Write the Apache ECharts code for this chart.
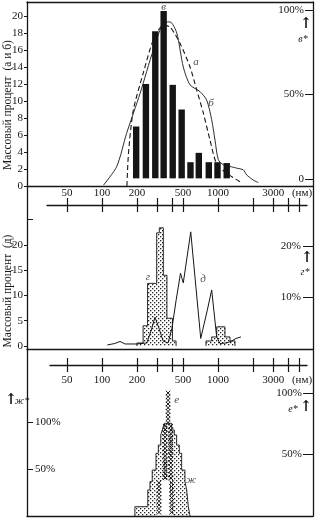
<!DOCTYPE html>
<html>
<head>
<meta charset="utf-8">
<script src="https://cdn.jsdelivr.net/npm/echarts@6/dist/echarts.min.js"></script>
<style>
  html, body { margin: 0; padding: 0; background: #fff; }
  #chart { width: 317px; height: 518px; }
</style>
</head>
<body>
<div id="chart"></div>
<script>
// ---- panel 1: histogram в and curves а (dashed), б (solid), mass %
const barSizes = [197, 239, 288, 340, 407, 486, 579, 683, 833, 990, 1189];
const barValues = [7, 12, 18.2, 20.6, 11.9, 9, 2.8, 3.9, 2.8, 2.8, 2.7];
const barBase = 0.9;
const curveASizes = [164, 169, 186, 227, 277, 338, 386, 470, 574, 655, 747, 853, 975, 1189, 1548];
const curveAValues = [0, 3.8, 8.9, 13.3, 17.2, 18.9, 18.7, 16.8, 14.0, 11.3, 8.6, 5.4, 2.6, 1.5, 0.5];
const curveBSizes = [103, 134, 163, 213, 277, 349, 386, 441, 502, 574, 700, 799, 882, 942, 1006, 1111, 1269, 1449, 1652, 1768, 2016, 2226];
const curveBValues = [0.1, 2.3, 6.2, 10.9, 16, 19.3, 19.3, 18, 14, 11.9, 11.1, 10.1, 7.8, 5.4, 3.1, 2.5, 2.3, 2.1, 1.9, 1.3, 0.7, 0.4];

// ---- panel 2: histogram г (two groups) and curve д
const histGEdges = [200, 226, 247, 296, 312, 338, 363, 405, 435];
const histGValues = [0.6, 4, 12.4, 22.4, 23.4, 14, 5.5, 1];
const histG2Edges = [788, 882, 974, 1149, 1269, 1402];
const histG2Values = [1, 1.8, 3.8, 1.8, 1];
const curveDSizes = [111, 129, 143, 158, 200, 243, 265, 286, 310, 336, 371, 401, 435, 475, 502, 582, 710, 809, 882, 974, 1040, 1172, 1294, 1430, 1579];
const curveDValues = [0.2, 0.5, 0.9, 0.4, 0.4, 0.6, 3, 5.7, 3.5, 1.0, 0.6, 3.5, 9, 14.4, 12.5, 22.6, 1.5, 7.1, 11.1, 1.8, 0.5, 0.6, 0.9, 1.5, 1.8];

// ---- panel 3: cumulative ж (stippled steps) and е (crosses)
const zhLeft = [192, 248, 259, 271, 292, 306, 321, 331, 344];
const zhRight = [574, 555, 537, 519, 486, 464, 440, 420, 399];
const zhTop = [9.9, 27.7, 36.5, 48.9, 66.7, 75.5, 86.2, 91.5, 98.6];
const gapLeft = [296, 323];
const gapRight = [399, 385];
const gapTop = [27.7, 38];
const eTopSizes = [371];
const eTopLevels = [100, 97, 94, 91, 88, 85, 82, 79, 76];
const eMidSizes = [350, 392];
const eMidLevels = [73, 70, 67, 64, 61, 58, 55, 52, 49, 46, 43, 40, 37, 34, 31];
const eLowSizes = [310, 398];
const eLowLevels = [27, 24, 21, 18, 15, 12, 9, 6, 3];

// axis ticks / labels (nm)
const sizeLabels = [50, 100, 200, 500, 1000, 3000, 5300];
const sizeTicks = [50, 100, 200, 300, 400, 500, 1000, 2000, 3000, 4000, 5000];

// curve letters
const lettersTop = [{ value: [340, 21.1], name: 'в' }, { value: [646, 14.6], name: 'а' }, { value: [871, 9.8], name: 'б' }];
const lettersMid = [{ value: [249, 13.7], name: 'г' }, { value: [743, 13.3], name: 'д' }];
const lettersBot = [{ value: [441, 94.3], name: 'е' }, { value: [585, 38.3], name: 'ж' }];

const ink = '#151515';
const serif = 'Liberation Serif';
const txt = { color: ink, fontFamily: serif, fontSize: 11 };

function dotPattern() {
  const c = document.createElement('canvas');
  c.width = 4; c.height = 4;
  const g = c.getContext('2d');
  g.fillStyle = '#fff'; g.fillRect(0, 0, 4, 4);
  g.fillStyle = '#222';
  g.fillRect(0, 0, 1.3, 1.3); g.fillRect(2, 2, 1.3, 1.3);
  return c;
}
const dots = { image: dotPattern(), repeat: 'repeat' };

function stepOutline(edges, vals) {
  const pts = [[edges[0], 0]];
  vals.forEach((v, i) => { pts.push([edges[i], v], [edges[i + 1], v]); });
  pts.push([edges[edges.length - 1], 0]);
  return pts;
}
function pyramidOutline(lefts, rights, tops) {
  const pts = [[lefts[0], 0]];
  let prev = 0;
  lefts.forEach((l, i) => { pts.push([l, prev], [l, tops[i]]); prev = tops[i]; });
  for (let i = rights.length - 1; i >= 0; i--) {
    pts.push([rights[i], tops[i]], [rights[i], i > 0 ? tops[i - 1] : 0]);
  }
  return pts;
}
function crosses(sizes, levels) {
  const pts = [];
  sizes.forEach(s => levels.forEach(l => pts.push([s, l])));
  return pts;
}
const pair = (xs, ys) => xs.map((x, i) => [x, ys[i]]);

function xAxis(grid, min, max, extra) {
  return Object.assign({
    type: 'log', gridIndex: grid, min: min, max: max, position: 'bottom',
    axisLine: { show: true, onZero: false, lineStyle: { color: ink, width: 1.3 } },
    axisTick: { show: false }, axisLabel: { show: false }, splitLine: { show: false }, z: 5
  }, extra);
}
function yAxis(grid, pos, min, max, extra) {
  return Object.assign({
    type: 'value', gridIndex: grid, position: pos, min: min, max: max,
    axisLine: { show: true, onZero: false, lineStyle: { color: ink, width: 1.3 } },
    axisTick: { show: false }, axisLabel: { show: false }, splitLine: { show: false }
  }, extra);
}
const pct = v => v === 0 ? '0' : v + '%';
const letterLabel = { show: true, position: 'inside', formatter: '{b}', color: ink, fontFamily: serif, fontStyle: 'italic', fontSize: 11 };
const tickStyle = { color: ink, width: 1.2 };

const chart = echarts.init(document.getElementById('chart'));
const option = {
  animation: false,
  grid: [
    { left: 27, right: 4, top: 2, height: 184 },
    { left: 27, right: 4, top: 186, height: 163 },
    { left: 27, right: 4, top: 349, height: 167 },
    { left: 47, right: 10, top: 198, height: 7 },
    { left: 50, right: 10, top: 358, height: 7 }
  ],
  xAxis: [
    xAxis(0, 22.56, 6592, {
      axisLabel: Object.assign({ show: true, customValues: sizeLabels, margin: 2,
        formatter: v => v > 5000 ? '(нм)' : String(v) }, txt)
    }),
    xAxis(0, 22.56, 6592, { position: 'top' }),
    xAxis(1, 22.56, 6592),
    xAxis(2, 22.56, 6592),
    xAxis(3, 33.57, 5851, { axisTick: { show: true, customValues: sizeTicks, length: 7, lineStyle: tickStyle } }),
    xAxis(3, 33.57, 5851, { axisLine: { show: false }, axisTick: { show: true, inside: true, customValues: sizeTicks, length: 7, lineStyle: tickStyle } }),
    xAxis(4, 35.62, 5851, {
      axisTick: { show: true, customValues: sizeTicks, length: 7, lineStyle: tickStyle },
      axisLabel: Object.assign({ show: true, customValues: sizeLabels, margin: 10,
        formatter: v => v > 5000 ? '(нм)' : String(v) }, txt)
    }),
    xAxis(4, 35.62, 5851, { axisLine: { show: false }, axisTick: { show: true, inside: true, customValues: sizeTicks, length: 7, lineStyle: tickStyle } })
  ],
  yAxis: [
    yAxis(0, 'left', 0, 21.647, {
      axisTick: { show: true, length: 3, customValues: [0, 2, 4, 6, 8, 10, 12, 14, 16, 18, 20], lineStyle: { color: ink } },
      axisLabel: Object.assign({ show: true, margin: 4, customValues: [0, 2, 4, 6, 8, 10, 12, 14, 16, 18, 20] }, txt)
    }),
    yAxis(0, 'right', -4.142, 104.734, {
      axisTick: { show: true, inside: true, length: 8, customValues: [0, 50, 100], lineStyle: { color: ink } },
      axisLabel: Object.assign({ show: true, inside: true, margin: 9, customValues: [0, 50, 100], formatter: pct }, txt)
    }),
    yAxis(1, 'left', -0.594, 31.68, {
      axisTick: { show: true, length: 3, customValues: [0, 5, 10, 15, 20], lineStyle: { color: ink } },
      axisLabel: Object.assign({ show: true, margin: 4, customValues: [0, 5, 10, 15, 20] }, txt)
    }),
    yAxis(1, 'right', -0.196, 31.76, {
      axisTick: { show: true, inside: true, length: 10, customValues: [10, 20], lineStyle: { color: ink } },
      axisLabel: Object.assign({ show: true, inside: true, margin: 12, customValues: [10, 20], formatter: pct }, txt)
    }),
    yAxis(1, 'left', -0.594, 31.68, {
      axisLine: { show: false },
      axisTick: { show: true, inside: true, length: 6, customValues: [25], lineStyle: { color: ink } }
    }),
    yAxis(2, 'left', 0, 177.66, {
      axisTick: { show: true, inside: true, length: 6, customValues: [50, 100], lineStyle: { color: ink } },
      axisLabel: Object.assign({ show: true, inside: true, margin: 8, customValues: [50, 100], formatter: pct }, txt)
    }),
    yAxis(2, 'right', 0, 135.77, {
      axisTick: { show: true, inside: true, length: 10, customValues: [50, 100], lineStyle: { color: ink } },
      axisLabel: Object.assign({ show: true, inside: true, margin: 11, customValues: [50, 100], formatter: pct }, txt)
    }),
    yAxis(3, 'left', 0, 1, { show: false }),
    yAxis(4, 'left', 0, 1, { show: false })
  ],
  series: [
    {
      type: 'custom', xAxisIndex: 0, yAxisIndex: 0,
      data: pair(barSizes, barValues),
      renderItem: (params, api) => {
        const top = api.coord([api.value(0), api.value(1)]);
        const bot = api.coord([api.value(0), barBase]);
        return { type: 'rect', shape: { x: top[0] - 3.2, y: top[1], width: 6.4, height: bot[1] - top[1] }, style: { fill: ink } };
      }
    },
    {
      type: 'line', xAxisIndex: 0, yAxisIndex: 0, data: pair(curveASizes, curveAValues),
      symbol: 'none', smooth: 0.25, lineStyle: { color: ink, width: 1.1, type: [5, 3] }
    },
    {
      type: 'line', xAxisIndex: 0, yAxisIndex: 0, data: pair(curveBSizes, curveBValues),
      symbol: 'none', smooth: 0.25, lineStyle: { color: ink, width: 0.9 }
    },
    {
      type: 'line', xAxisIndex: 2, yAxisIndex: 2, data: stepOutline(histGEdges, histGValues),
      symbol: 'none', lineStyle: { color: ink, width: 0.9 }, areaStyle: { color: dots, opacity: 1 }
    },
    {
      type: 'line', xAxisIndex: 2, yAxisIndex: 2, data: stepOutline(histG2Edges, histG2Values),
      symbol: 'none', lineStyle: { color: ink, width: 0.9 }, areaStyle: { color: dots, opacity: 1 }
    },
    {
      type: 'line', xAxisIndex: 2, yAxisIndex: 2, data: pair(curveDSizes, curveDValues),
      symbol: 'none', lineStyle: { color: ink, width: 1 }
    },
    {
      type: 'line', xAxisIndex: 3, yAxisIndex: 5, data: pyramidOutline(zhLeft, zhRight, zhTop),
      symbol: 'none', lineStyle: { color: ink, width: 0.9 }, areaStyle: { color: dots, opacity: 1 }
    },
    {
      type: 'line', xAxisIndex: 3, yAxisIndex: 5, data: pyramidOutline(gapLeft, gapRight, gapTop),
      symbol: 'none', lineStyle: { width: 0 }, areaStyle: { color: '#fff', opacity: 1 }
    },
    {
      type: 'custom', xAxisIndex: 3, yAxisIndex: 6, z: 10,
      data: crosses(eTopSizes, eTopLevels).concat(crosses(eMidSizes, eMidLevels), crosses(eLowSizes, eLowLevels)),
      renderItem: (params, api) => {
        const p = api.coord([api.value(0), api.value(1)]);
        const r = 2.2;
        return {
          type: 'polyline', shape: { points: [[p[0] - r, p[1] - r], [p[0] + r, p[1] + r]] },
          style: { stroke: ink, lineWidth: 1, fill: null },
          children: undefined
        };
      }
    },
    {
      type: 'custom', xAxisIndex: 3, yAxisIndex: 6, z: 10,
      data: crosses(eTopSizes, eTopLevels).concat(crosses(eMidSizes, eMidLevels), crosses(eLowSizes, eLowLevels)),
      renderItem: (params, api) => {
        const p = api.coord([api.value(0), api.value(1)]);
        const r = 2.2;
        return {
          type: 'polyline', shape: { points: [[p[0] + r, p[1] - r], [p[0] - r, p[1] + r]] },
          style: { stroke: ink, lineWidth: 1, fill: null }
        };
      }
    },
    {
      type: 'scatter', xAxisIndex: 0, yAxisIndex: 0, data: lettersTop, symbolSize: 1,
      itemStyle: { color: 'transparent' }, label: letterLabel
    },
    {
      type: 'scatter', xAxisIndex: 2, yAxisIndex: 2, data: lettersMid, symbolSize: 1,
      itemStyle: { color: 'transparent' }, label: letterLabel
    },
    {
      type: 'scatter', xAxisIndex: 3, yAxisIndex: 6, data: [lettersBot[0]], symbolSize: 1,
      itemStyle: { color: 'transparent' }, label: letterLabel
    },
    {
      type: 'scatter', xAxisIndex: 3, yAxisIndex: 5, data: [lettersBot[1]], symbolSize: 1,
      itemStyle: { color: 'transparent' }, label: letterLabel
    }
  ],
  graphic: [
    { type: 'text', x: 8, y: 105, rotation: Math.PI / 2,
      style: { text: 'Массовый процент  (а и б)', font: '11.5px "Liberation Serif"', fill: ink, align: 'center', verticalAlign: 'middle', textAlign: 'center', textVerticalAlign: 'middle' } },
    { type: 'text', x: 8, y: 291, rotation: Math.PI / 2,
      style: { text: 'Массовый процент  (д)', font: '11.5px "Liberation Serif"', fill: ink, align: 'center', verticalAlign: 'middle', textAlign: 'center', textVerticalAlign: 'middle' } },
    { type: 'text', x: 306, y: 24, style: { text: '↑', font: 'bold 15px "DejaVu Serif"', fill: ink, align: 'center', verticalAlign: 'middle', textAlign: 'center', textVerticalAlign: 'middle' } },
    { type: 'text', x: 303, y: 39, style: { text: 'в*', font: 'italic 10px "Liberation Serif"', fill: ink, align: 'center', verticalAlign: 'middle', textAlign: 'center', textVerticalAlign: 'middle' } },
    { type: 'text', x: 307, y: 258, style: { text: '↑', font: 'bold 15px "DejaVu Serif"', fill: ink, align: 'center', verticalAlign: 'middle', textAlign: 'center', textVerticalAlign: 'middle' } },
    { type: 'text', x: 305, y: 272, style: { text: 'г*', font: 'italic 10px "Liberation Serif"', fill: ink, align: 'center', verticalAlign: 'middle', textAlign: 'center', textVerticalAlign: 'middle' } },
    { type: 'text', x: 306, y: 407, style: { text: '↑', font: 'bold 15px "DejaVu Serif"', fill: ink, align: 'center', verticalAlign: 'middle', textAlign: 'center', textVerticalAlign: 'middle' } },
    { type: 'text', x: 293, y: 409, style: { text: 'е*', font: 'italic 10px "Liberation Serif"', fill: ink, align: 'center', verticalAlign: 'middle', textAlign: 'center', textVerticalAlign: 'middle' } },
    { type: 'text', x: 11, y: 400, style: { text: '↑', font: 'bold 15px "DejaVu Serif"', fill: ink, align: 'center', verticalAlign: 'middle', textAlign: 'center', textVerticalAlign: 'middle' } },
    { type: 'text', x: 22, y: 401, style: { text: 'ж*', font: 'italic 10px "Liberation Serif"', fill: ink, align: 'center', verticalAlign: 'middle', textAlign: 'center', textVerticalAlign: 'middle' } }
  ]
};
chart.setOption(option);
</script>
</body>
</html>
